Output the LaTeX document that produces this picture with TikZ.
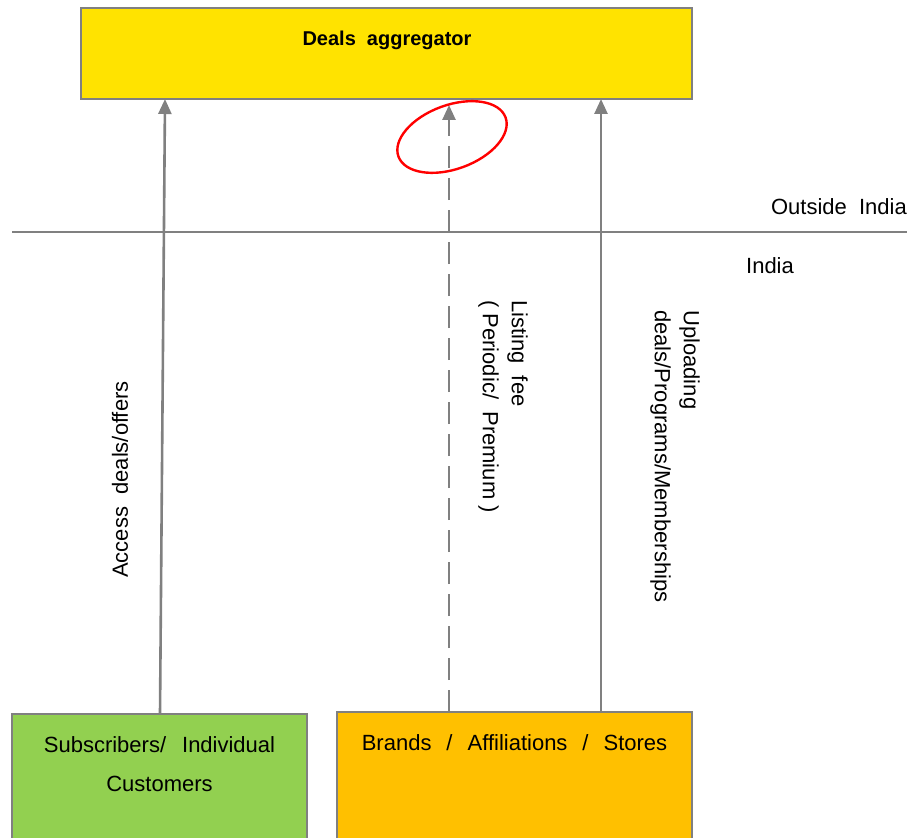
\documentclass[tikz,border=0pt]{standalone}
\usepackage{fontspec}
\setmainfont{Liberation Sans}
\usetikzlibrary{arrows.meta}
\definecolor{lgray}{HTML}{808080}
\definecolor{aggyellow}{HTML}{FFE300}
\definecolor{subgreen}{HTML}{92D050}
\definecolor{brandorange}{HTML}{FFC000}
\tikzset{
  box/.style={draw=lgray, line width=2.4pt, rectangle, inner sep=0pt},
  flow/.style={draw=lgray, line width=2.6pt, -{Triangle[length=15pt,width=13pt]}},
  txt/.style={font=\fontsize{22}{29}\selectfont, inner sep=0pt, text=black},
}
\begin{document}
\begin{tikzpicture}[x=1pt,y=-1pt]
\useasboundingbox (0,0) rectangle (909,837);
% boxes
\node[box, fill=aggyellow, minimum width=611pt, minimum height=91pt] (agg) at (386.5,53.5) {};
\node[txt, font=\bfseries\fontsize{20}{26}\selectfont] (aggt) at (387,40) {Deals~~aggregator};
\node[box, fill=subgreen, minimum width=295pt, minimum height=128pt] (sub) at (159.5,778) {};
\node[box, fill=brandorange, minimum width=355pt, minimum height=130pt] (brand) at (514.5,777) {};
\node[txt] (subt1) at (159.5,745) {Subscribers/\hspace{16pt}Individual};
\node[txt] (subt2) at (159.5,784) {Customers};
\node[txt] (brandt) at (514.5,743) {Brands\hspace{15pt}/\hspace{15pt}Affiliations\hspace{15pt}/\hspace{15pt}Stores};
% border line
\coordinate (hl) at (12,232);
\coordinate (hr) at (907,232);
\draw[lgray, line width=2.6pt] (hl) -- (hr);
\node[txt, anchor=east] (out) at (907,207) {Outside~~India};
\node[txt] (ind) at (770,266) {India};
% connectors
\coordinate (s1) at (160,714);
\coordinate (e1) at (165,99);
\coordinate (s2) at (449,712);
\coordinate (e2) at (449,105);
\coordinate (s3) at (601,712);
\coordinate (e3) at (601,99);
\draw[flow] (s1) -- (e1);
\draw[flow, dash pattern=on 22pt off 10pt] (s2) -- (e2);
\draw[flow] (s3) -- (e3);
% labels
\node[txt, rotate=90, anchor=west] (l1) at (120,578) {Access~~deals/offers};
\node[txt, rotate=-90, anchor=west, align=left] (l2) at (503,300) {Listing~~fee\\(~Periodic/~~Premium~)};
\node[txt, rotate=-90, anchor=west, align=left] (l3) at (675,310) {Uploading\\deals/Programs/Memberships};
% highlight
\coordinate (hc) at (452,137);
\draw[red, line width=2.4pt, rotate around={20:(hc)}] (hc) ellipse [x radius=57, y radius=32];
\end{tikzpicture}
\end{document}
